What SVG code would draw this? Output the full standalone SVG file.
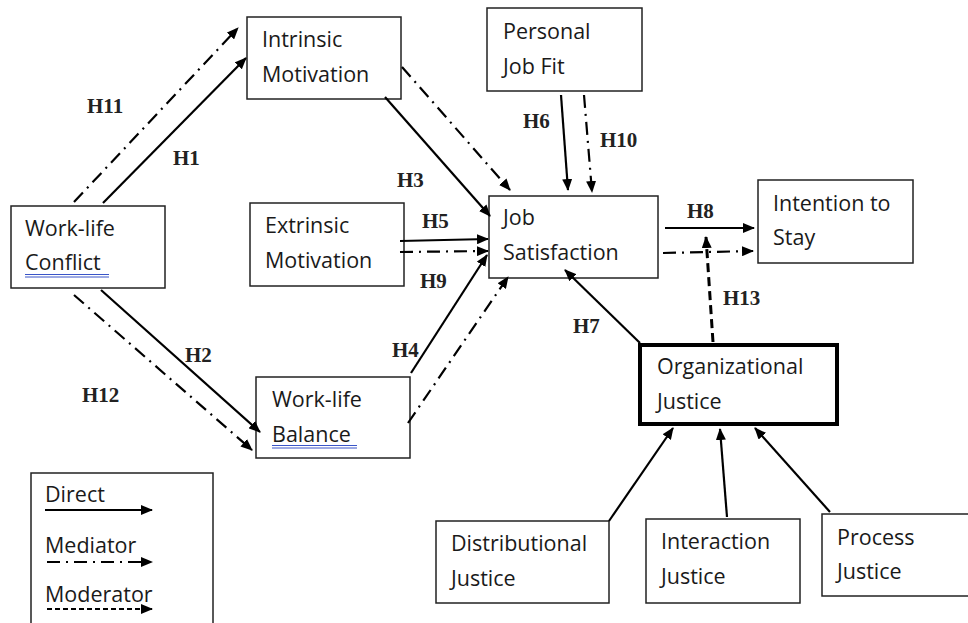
<svg xmlns="http://www.w3.org/2000/svg" width="968" height="623" viewBox="0 0 968 623">
<defs>
<marker id="ah" markerUnits="userSpaceOnUse" markerWidth="12" markerHeight="10" refX="11" refY="5" orient="auto">
<path d="M0,0 L12,5 L0,10 z" fill="#000"/>
</marker>
<style>
.box{fill:#fff;stroke:#222;stroke-width:1.5}
.bold{fill:#fff;stroke:#000;stroke-width:4}
.t{font-family:"Open Sans","Liberation Sans",Arial,sans-serif;font-size:21.5px;fill:#1a1a1a}
.h{font-family:"Liberation Serif","Times New Roman",serif;font-size:21px;font-weight:bold;fill:#222}
.d{stroke:#000;stroke-width:2.2;fill:none;marker-end:url(#ah)}
.m{stroke:#000;stroke-width:2.2;fill:none;stroke-dasharray:13 6 2 6;marker-end:url(#ah)}
.o{stroke:#000;stroke-width:3;fill:none;stroke-dasharray:9 5;marker-end:url(#ah)}
.ul{stroke:#3a55c8;stroke-width:1}
</style>
</defs>
<rect width="968" height="623" fill="#fff"/>

<g id="intrinsic">
<rect class="box" x="247" y="17" width="154" height="82"/>
<text class="t" x="262" y="47">Intrinsic</text>
<text class="t" x="262" y="82">Motivation</text>
</g>
<g id="personal">
<rect class="box" x="487" y="8" width="155" height="83"/>
<text class="t" x="503" y="39">Personal</text>
<text class="t" x="503" y="74">Job Fit</text>
</g>
<g id="wlconflict">
<rect class="box" x="11" y="206" width="154" height="82"/>
<text class="t" x="25" y="236">Work-life</text>
<text class="t" x="25" y="270">Conflict</text>
<line class="ul" x1="25" y1="274.5" x2="109" y2="274.5"/>
<line class="ul" x1="25" y1="277" x2="109" y2="277"/>
</g>
<g id="extrinsic">
<rect class="box" x="250" y="203" width="154" height="83"/>
<text class="t" x="265" y="233">Extrinsic</text>
<text class="t" x="265" y="268">Motivation</text>
</g>
<g id="jobsat">
<rect class="box" x="489" y="196" width="169" height="82"/>
<text class="t" x="503" y="225">Job</text>
<text class="t" x="503" y="260">Satisfaction</text>
</g>
<g id="intention">
<rect class="box" x="758" y="180" width="155" height="83"/>
<text class="t" x="773" y="211">Intention to</text>
<text class="t" x="773" y="245">Stay</text>
</g>
<g id="wlbalance">
<rect class="box" x="256" y="377" width="154" height="81"/>
<text class="t" x="272" y="407">Work-life</text>
<text class="t" x="272" y="442">Balance</text>
<line class="ul" x1="272" y1="445.5" x2="357" y2="445.5"/>
<line class="ul" x1="272" y1="448" x2="357" y2="448"/>
</g>
<g id="orgjustice">
<rect class="bold" x="640" y="345" width="197" height="79"/>
<text class="t" x="657" y="374">Organizational</text>
<text class="t" x="657" y="409">Justice</text>
</g>
<g id="distributional">
<rect class="box" x="436" y="521" width="173" height="82"/>
<text class="t" x="451" y="551">Distributional</text>
<text class="t" x="451" y="586">Justice</text>
</g>
<g id="interaction">
<rect class="box" x="646" y="519" width="154" height="84"/>
<text class="t" x="661" y="549">Interaction</text>
<text class="t" x="661" y="584">Justice</text>
</g>
<g id="process">
<rect class="box" x="822" y="514" width="160" height="82"/>
<text class="t" x="837" y="545">Process</text>
<text class="t" x="837" y="579">Justice</text>
</g>

<g id="connectors">
<line class="d" x1="103" y1="203" x2="246" y2="58"/>
<line class="m" x1="74" y1="202" x2="238" y2="28"/>
<line class="d" x1="385" y1="97" x2="490" y2="216"/>
<line class="m" x1="402" y1="67" x2="510" y2="190"/>
<line class="d" x1="561" y1="95" x2="568" y2="190"/>
<line class="m" x1="584" y1="95" x2="592" y2="192"/>
<line class="d" x1="400" y1="241" x2="488" y2="239"/>
<line class="m" x1="400" y1="252" x2="488" y2="251"/>
<line class="d" x1="411" y1="373" x2="487" y2="255"/>
<line class="m" x1="408" y1="423" x2="508" y2="277"/>
<line class="d" x1="640" y1="343" x2="565" y2="270"/>
<line class="d" x1="101" y1="290" x2="260" y2="432"/>
<line class="m" x1="74" y1="295" x2="252" y2="450"/>
<line class="d" x1="665" y1="228" x2="754" y2="228"/>
<line class="m" x1="663" y1="253" x2="753" y2="251"/>
<line class="o" x1="713" y1="342" x2="706" y2="237"/>
<line class="d" x1="609" y1="521" x2="673" y2="428"/>
<line class="d" x1="727" y1="517" x2="720" y2="429"/>
<line class="d" x1="830" y1="512" x2="755" y2="428"/>
</g>

<g id="labels">
<text class="h" x="87" y="113">H11</text>
<text class="h" x="173" y="165">H1</text>
<text class="h" x="397" y="187">H3</text>
<text class="h" x="523" y="128">H6</text>
<text class="h" x="600" y="147">H10</text>
<text class="h" x="422" y="228">H5</text>
<text class="h" x="420" y="288">H9</text>
<text class="h" x="392" y="357">H4</text>
<text class="h" x="573" y="333">H7</text>
<text class="h" x="687" y="218">H8</text>
<text class="h" x="723" y="305">H13</text>
<text class="h" x="185" y="362">H2</text>
<text class="h" x="82" y="402">H12</text>
</g>

<g id="legend">
<rect class="box" x="31" y="473" width="182" height="170"/>
<text class="t" x="45" y="502">Direct</text>
<line class="d" x1="45" y1="510" x2="152" y2="510"/>
<text class="t" x="45" y="553">Mediator</text>
<line class="m" x1="47" y1="562" x2="152" y2="562"/>
<text class="t" x="45" y="602">Moderator</text>
<line stroke="#000" stroke-width="2" stroke-dasharray="5 3" marker-end="url(#ah)" x1="47" y1="609" x2="152" y2="609"/>
</g>
</svg>
